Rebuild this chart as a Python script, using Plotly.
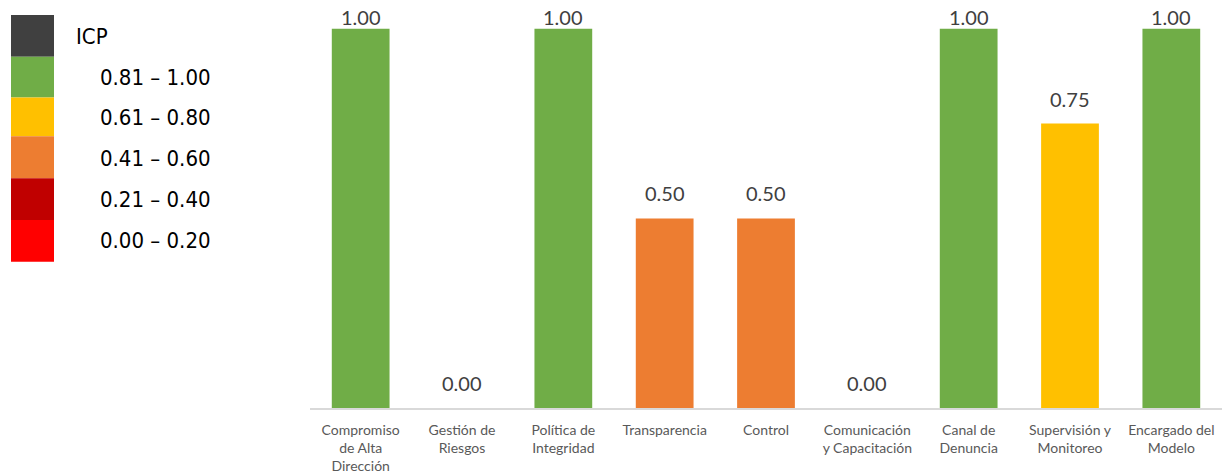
import plotly.graph_objects as go

categories = ["Compromiso<br>de Alta<br>Dirección", "Gestión de<br>Riesgos", "Política de<br>Integridad",
              "Transparencia", "Control", "Comunicación<br>y Capacitación", "Canal de<br>Denuncia",
              "Supervisión y<br>Monitoreo", "Encargado del<br>Modelo"]
values = [1.00, 0.00, 1.00, 0.50, 0.50, 0.00, 1.00, 0.75, 1.00]

legend_title = "ICP"
legend_labels = ["0.81 – 1.00", "0.61 – 0.80", "0.41 – 0.60", "0.21 – 0.40", "0.00 – 0.20"]
legend_lower = [0.81, 0.61, 0.41, 0.21, 0.00]
legend_colors = ["#70AD47", "#FFC000", "#ED7D31", "#C00000", "#FF0000"]
header_color = "#404040"

def color_for(v):
    for lo, c in zip(legend_lower, legend_colors):
        if v >= lo - 1e-9:
            return c
    return legend_colors[-1]

bar_colors = [color_for(v) for v in values]

W, H = 1222, 474
ML, MR, MT, MB = 310, 0, 0, 64
PW, PH = W - ML - MR, H - MT - MB

def px_x(px):
    return (px - ML) / PW

def px_y(py):
    return (H - MB - py) / PH

fig = go.Figure(go.Bar(
    x=categories, y=values, marker=dict(color=bar_colors, line=dict(width=0)),
    hoverinfo="skip",
))

ymax = 1.076
vmax = max(values)
for c, v in zip(categories, values):
    fig.add_annotation(x=c, y=v, text=f"{v:.2f}", showarrow=False, yanchor="bottom",
                       yshift=(-2 if v == vmax else 11),
                       font=dict(family="Lato, Carlito, sans-serif", size=20, color="#404040"))

# legend boxes
box_edges = [15, 57, 98, 137, 179, 221, 263]
all_colors = [header_color] + legend_colors
for i, col in enumerate(all_colors):
    fig.add_shape(type="rect", xref="paper", yref="paper",
                  x0=px_x(11), x1=px_x(54), y0=px_y(box_edges[i + 1]), y1=px_y(box_edges[i]),
                  fillcolor=col, line=dict(width=0), layer="above")

lfont = dict(family="DejaVu Sans Condensed, Liberation Sans Narrow, Roboto, sans-serif", size=22, color="#000000")
fig.add_annotation(xref="paper", yref="paper", x=px_x(74), y=px_y(37), text=legend_title,
                   showarrow=False, xanchor="left", yanchor="middle", font=lfont)
label_y = [78, 118, 159, 200, 242]
for lab, yy in zip(legend_labels, label_y):
    fig.add_annotation(xref="paper", yref="paper", x=px_x(98), y=px_y(yy), text=lab,
                       showarrow=False, xanchor="left", yanchor="middle", font=lfont)

fig.update_layout(
    width=W, height=H, margin=dict(l=ML, r=MR, t=MT, b=MB),
    paper_bgcolor="white", plot_bgcolor="white", showlegend=False, bargap=0.43,
    xaxis=dict(showgrid=False, showline=True, linecolor="#D9D9D9", linewidth=1.5, ticks="",
               ticklabelstandoff=8,
               tickfont=dict(family="Lato, Carlito, sans-serif", size=14, color="#595959")),
    yaxis=dict(range=[0, ymax], visible=False, showgrid=False, zeroline=False),
)

fig.write_html("out.html", config={"displayModeBar": False},
               post_script="document.body.style.margin='0';document.body.style.overflow='hidden';")
